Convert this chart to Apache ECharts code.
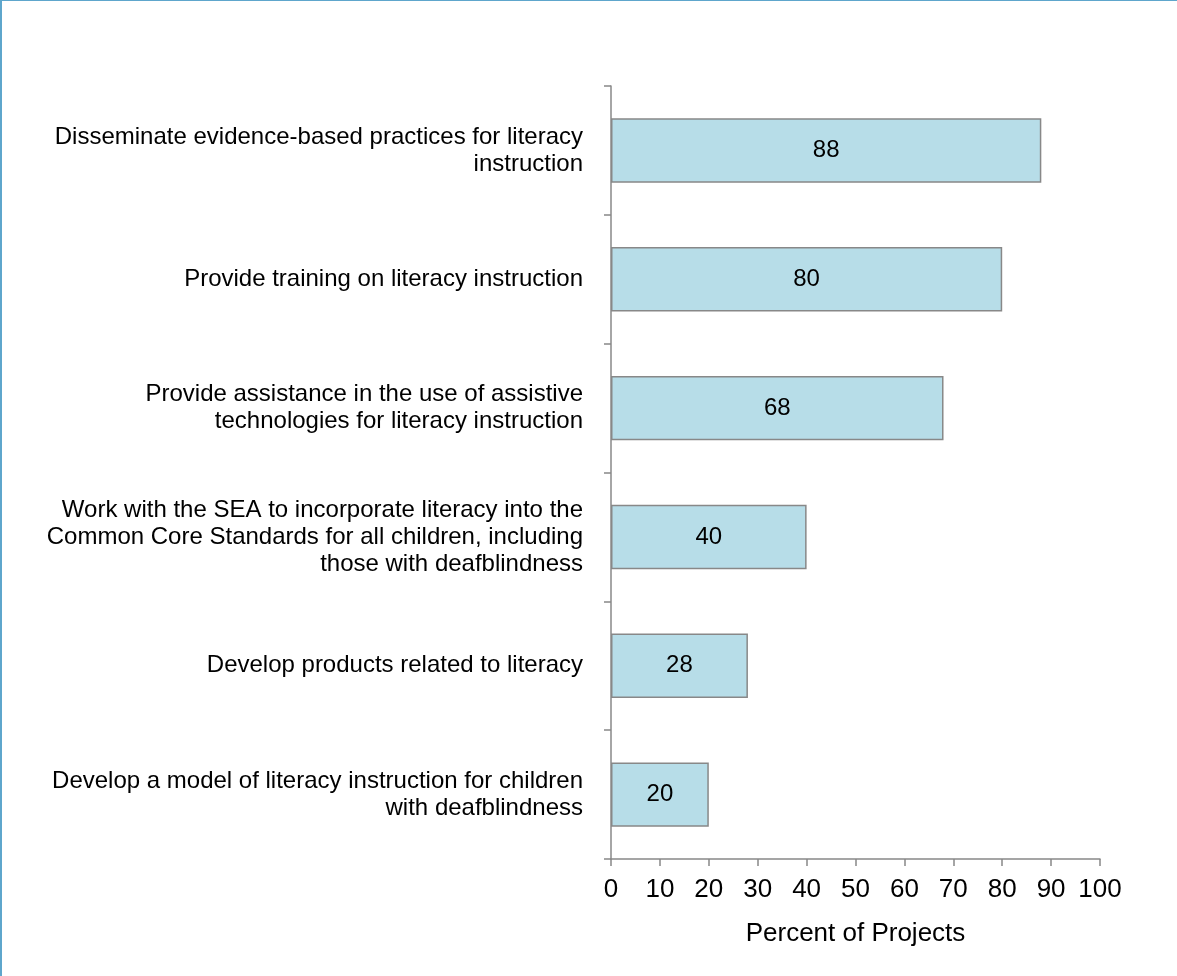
<!DOCTYPE html>
<html>
<head>
<meta charset="utf-8">
<script src="https://cdn.jsdelivr.net/npm/echarts@6/dist/echarts.min.js"></script>
<style>
  html, body { margin: 0; padding: 0; background: #fff; }
  #frame { position: absolute; left: 0; top: 0; width: 1177px; height: 976px; box-sizing: border-box;
           border-top: 1px solid #5ea6cc; border-left: 2px solid #5ea6cc; }
  #chart { position: absolute; left: 0; top: 0; width: 1177px; height: 976px; }
</style>
</head>
<body>
<div id="frame"></div>
<div id="chart"></div>
<script>
const categories = [
  "Disseminate evidence-based practices for literacy\ninstruction",
  "Provide training on literacy instruction",
  "Provide assistance in the use of assistive\ntechnologies for literacy instruction",
  "Work with the SEA to incorporate literacy into the\nCommon Core Standards for all children, including\nthose with deafblindness",
  "Develop products related to literacy",
  "Develop a model of literacy instruction for children\nwith deafblindness"
];
const values = [88, 80, 68, 40, 28, 20];
const xTicks = { min: 0, max: 100, interval: 10 };
const xAxisName = "Percent of Projects";

const chart = echarts.init(document.getElementById('chart'), null, { renderer: 'canvas' });
const font = 'Liberation Sans, Arial, sans-serif';
chart.setOption({
  backgroundColor: 'transparent',
  animation: false,
  grid: { left: 611, right: 77, top: 86, bottom: 117, containLabel: false },
  xAxis: {
    type: 'value',
    min: xTicks.min, max: xTicks.max, interval: xTicks.interval,
    name: xAxisName,
    nameLocation: 'middle',
    nameGap: 62,
    nameTextStyle: { fontFamily: font, fontSize: 26, color: '#000' },
    axisLine: { show: true, lineStyle: { color: '#888', width: 1.5 } },
    axisTick: { show: true, inside: false, length: 7, lineStyle: { color: '#888', width: 1.5 } },
    axisLabel: { fontFamily: font, fontSize: 26, color: '#000', margin: 18 },
    splitLine: { show: false }
  },
  yAxis: {
    type: 'category',
    inverse: true,
    data: categories,
    axisLine: { show: true, lineStyle: { color: '#888', width: 1.5 } },
    axisTick: { show: true, inside: false, length: 7, lineStyle: { color: '#888', width: 1.5 } },
    axisLabel: { fontFamily: font, fontSize: 24, color: '#000', margin: 28, lineHeight: 27, align: 'right' },
    splitLine: { show: false }
  },
  series: [{
    type: 'bar',
    data: values,
    barWidth: '50%',
    itemStyle: { color: '#b7dde8', borderColor: '#888', borderWidth: 1.5 },
    label: { show: true, position: 'inside', fontFamily: font, fontSize: 24, color: '#000' }
  }]
});
</script>
</body>
</html>
